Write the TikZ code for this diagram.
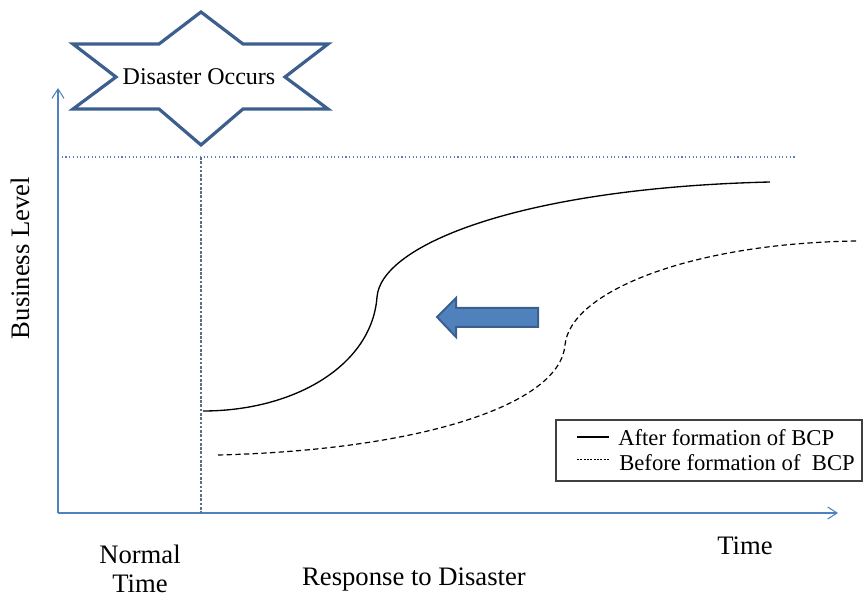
\documentclass[tikz,border=0pt]{standalone}
\usepackage{fontspec}
\setmainfont{Liberation Serif}
\usetikzlibrary{arrows.meta}
\definecolor{axisblue}{HTML}{4F81BD}
\definecolor{darkblue}{HTML}{3C5F8E}
\definecolor{guidegray}{HTML}{5A6E8C}
\tikzset{
  axisline/.style={draw=axisblue, line width=0.8pt},
  lbl/.style={font=\fontsize{20}{23}\selectfont, inner sep=0pt, anchor=base},
  legtext/.style={font=\fontsize{17}{20}\selectfont, inner sep=0pt, anchor=base west},
  curveafter/.style={draw=black, line width=1pt},
  curvebefore/.style={draw=black, line width=0.9pt, dash pattern=on 4pt off 2.5pt},
}
\begin{document}
\begin{tikzpicture}[x=0.75pt,y=-0.75pt]
\useasboundingbox (0,0) rectangle (865,598);
% axes
\coordinate (O) at (58,513);
\coordinate (ytop) at (58,88);
\coordinate (xend) at (838,513);
\draw[axisline, -{Straight Barb[length=7pt,width=9pt]}] (O) -- (ytop);
\draw[axisline, -{Straight Barb[length=7pt,width=9pt]}] (O) -- (xend);
% guides
\coordinate (hl) at (58,157);
\coordinate (hr) at (797,157);
\draw[axisblue, line width=0.8pt, dotted] (hl) -- (hr);
\coordinate (vt) at (201,157);
\coordinate (vb) at (201,513);
\draw[guidegray, line width=0.8pt, dash pattern=on 2pt off 1.2pt] (vt) -- (vb);
% star
\draw[darkblue, line width=2.4pt, fill=white, line join=miter]
  (201,12) -- (243,44) -- (328,44) -- (285,77) -- (328,109) -- (243,109)
  -- (201,145) -- (159,109) -- (73,109) -- (116,77) -- (73,44) -- (159,44) -- cycle;
\node[font=\fontsize{18}{21}\selectfont, inner sep=0pt, anchor=base] (star) at (199,85) {Disaster Occurs};
% curves
\coordinate (a0) at (203,411);
\coordinate (a1) at (377,297);
\coordinate (a2) at (770,182);
\draw[curveafter] (a0) .. controls (295,411) and (372,365) .. (a1)
  .. controls (381,245) and (520,188) .. (a2);
\coordinate (b0) at (218,455);
\coordinate (b1) at (565,345);
\coordinate (b2) at (858,241);
\draw[curvebefore] (b0) .. controls (420,450) and (560,405) .. (b1)
  .. controls (570,292) and (690,243) .. (b2);
% block arrow
\draw[darkblue, fill=axisblue, line width=1.5pt, line join=miter]
  (437,317) -- (456,298) -- (456,308) -- (538,308) -- (538,327) -- (456,327) -- (456,337) -- cycle;
% legend
\draw[black!75, line width=0.8pt] (556,420) rectangle (862,481);
\coordinate (l1a) at (577,437);
\coordinate (l1b) at (609,437);
\draw[black, line width=1.3pt] (l1a) -- (l1b);
\coordinate (l2a) at (577,459);
\coordinate (l2b) at (609,459);
\draw[black, line width=0.5pt, dash pattern=on 1.5pt off 1pt] (l2a) -- (l2b);
\node[legtext] (leg1) at (618,446) {After formation of BCP};
\node[legtext] (leg2) at (619,471) {Before formation of \ BCP};
% labels
\node[lbl, rotate=90] (ylab) at (29,258) {Business Level};
\node[lbl] (normal) at (140,564) {Normal};
\node[lbl] (ntime) at (140,593) {Time};
\node[lbl] (resp) at (414,586) {Response to Disaster};
\node[lbl] (time) at (745,555) {Time};
\end{tikzpicture}
\end{document}
